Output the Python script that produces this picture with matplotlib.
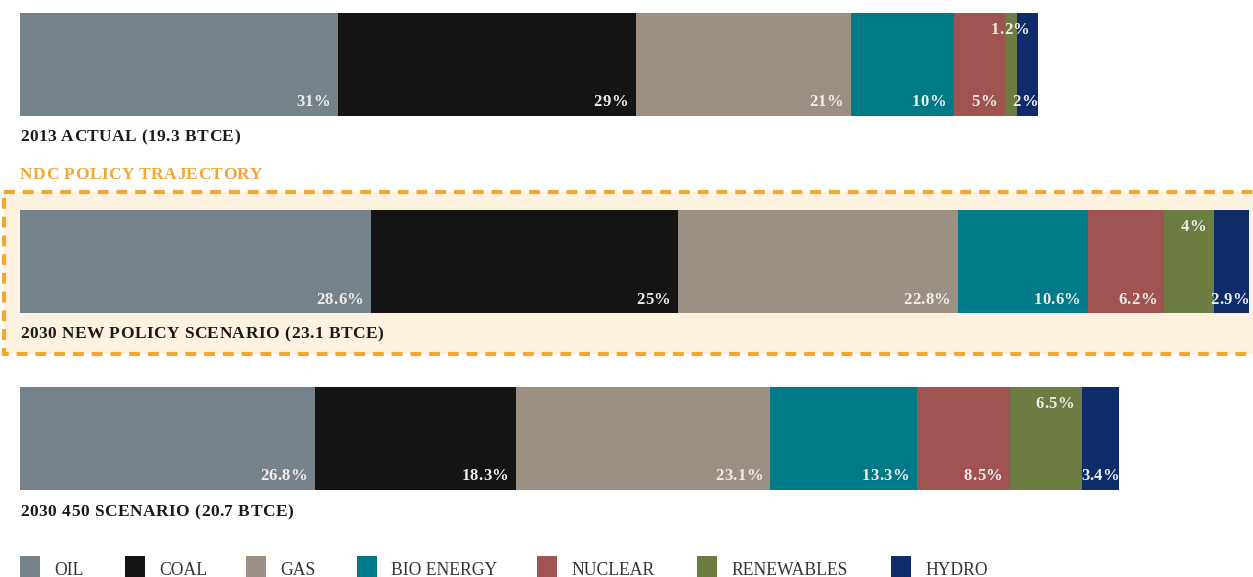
import matplotlib
matplotlib.use("Agg")
import matplotlib.pyplot as plt
from matplotlib.patches import Rectangle
from matplotlib.font_manager import FontProperties

# ---- data ----
categories = ["OIL", "COAL", "GAS", "BIO ENERGY", "NUCLEAR", "RENEWABLES", "HYDRO"]
colors = ["#76828A", "#141414", "#9C9084", "#007A87", "#A05452", "#6D7C41", "#0E2C69"]
scenario_titles = ["2013 ACTUAL (19.3 BTCE)", "2030 NEW POLICY SCENARIO (23.1 BTCE)",
                   "2030 450 SCENARIO (20.7 BTCE)"]
totals = [19.3, 23.1, 20.7]
share_2013 = [31, 29, 21, 10, 5, 1.2, 2]
share_nps = [28.6, 25, 22.8, 10.6, 6.2, 4, 2.9]
share_450 = [26.8, 18.3, 23.1, 13.3, 8.5, 6.5, 3.4]
shares = [share_2013, share_nps, share_450]
labels_2013 = ["31%", "29%", "21%", "10%", "5%", "1.2%", "2%"]
labels_nps = ["28.6%", "25%", "22.8%", "10.6%", "6.2%", "4%", "2.9%"]
labels_450 = ["26.8%", "18.3%", "23.1%", "13.3%", "8.5%", "6.5%", "3.4%"]
labels = [labels_2013, labels_nps, labels_450]
section_label = "NDC POLICY TRAJECTORY"

W, H = 1253, 577
fig = plt.figure(figsize=(W / 100, H / 100), dpi=100)
renderer = fig.canvas.get_renderer()

serif = ["Liberation Serif", "DejaVu Serif"]


def text_w(s, fp):
    w, h, d = renderer.get_text_width_height_descent(s, fp, ismath=False)
    return w


def spaced_text(axp, x, y, s, track, ha="left", **kw):
    """Draw text in pixel-coord axes with extra letter spacing (px)."""
    fp = FontProperties(family=serif, size=kw.get("fontsize", 12),
                        weight=kw.get("fontweight", "normal"))
    total = text_w(s, fp) + track * (len(s) - 1)
    start = x if ha == "left" else x - total
    for i, ch in enumerate(s):
        if ch == " ":
            continue
        xr = start + text_w(s[:i + 1], fp) + i * track
        axp.text(xr, y, ch, ha="right", va="baseline", family=serif, **kw)


# background/decoration axes in pixel coords
bg = fig.add_axes([0, 0, 1, 1])
bg.set_xlim(0, W)
bg.set_ylim(H, 0)
bg.axis("off")

orange = "#F2A830"
box = Rectangle((4, 192), 1262, 162, facecolor="#FDF1E0", edgecolor=orange,
                linewidth=3.0, linestyle=(0, (2.6, 1.9)), zorder=0)
bg.add_patch(box)

# bars: x in BTCE, y in pixels
x0px, x1px = 20, 1248
s = 23.1 / (x1px - x0px)
ax = fig.add_axes([0, 0, 1, 1], zorder=2)
ax.patch.set_alpha(0)
ax.set_xlim(-x0px * s, (W - x0px) * s)
ax.set_ylim(H, 0)
ax.axis("off")

# overlay pixel axes for labels (above bars)
top = fig.add_axes([0, 0, 1, 1], zorder=3)
top.patch.set_alpha(0)
top.set_xlim(0, W)
top.set_ylim(H, 0)
top.axis("off")

bar_tops = [13, 210, 387]
bar_h = 103
title_base = [141, 338, 516]
lab_color = "#F0EEEA"

for i in range(3):
    vals = [totals[i] * p / 100 for p in shares[i]]
    left = 0
    yc = bar_tops[i] + bar_h / 2
    for j, v in enumerate(vals):
        ax.barh(yc, v, left=left, height=bar_h, color=colors[j], edgecolor="none")
        right = left + v
        rpx = x0px + right / s
        if categories[j] == "RENEWABLES":
            xr = rpx - 8 if i > 0 else rpx + 12
            yb = bar_tops[i] + 21
        elif categories[j] == "HYDRO":
            xr = rpx
            yb = bar_tops[i] + bar_h - 9.5
        else:
            xr = rpx - 8
            yb = bar_tops[i] + bar_h - 9.5
        spaced_text(top, xr, yb, labels[i][j], 0.3, ha="right", color=lab_color,
                    fontsize=12, fontweight="bold")
        left = right
    spaced_text(bg, 20, title_base[i], scenario_titles[i], 0.5, color="#1a1a1a",
                fontsize=12.5, fontweight="bold")

spaced_text(bg, 20, 179, section_label, 0.5, color=orange,
            fontsize=12.5, fontweight="bold")

# legend
sq_x = [20, 125, 246, 357, 537, 697, 891]
for j, cat in enumerate(categories):
    bg.add_patch(Rectangle((sq_x[j], 556), 20, 22, facecolor=colors[j], edgecolor="none"))
    bg.text(sq_x[j] + 34, 575, cat, ha="left", va="baseline", color="#333333",
            fontsize=12.7, family=serif)

fig.savefig("out.png", dpi=100)
